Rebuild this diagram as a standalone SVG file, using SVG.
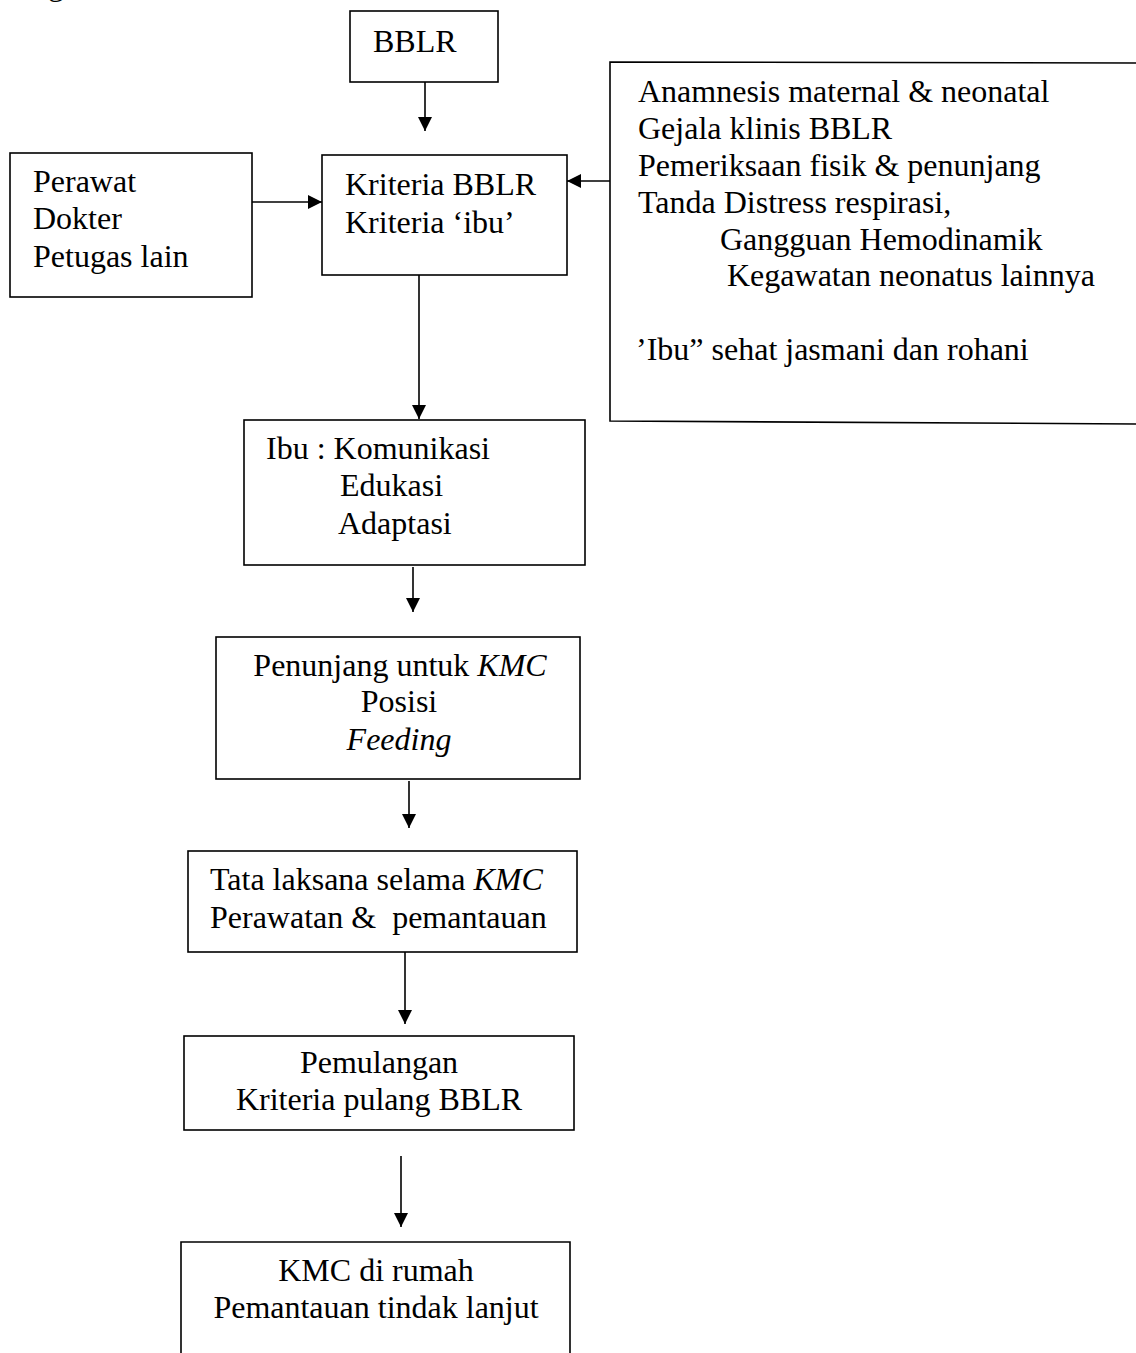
<svg xmlns="http://www.w3.org/2000/svg" width="1136" height="1353" viewBox="0 0 1136 1353">
<style>
.box{fill:none;stroke:#000;stroke-width:1.6}
.ln{fill:none;stroke:#000;stroke-width:1.6}
text{font-family:"Liberation Serif","Times New Roman",serif;font-size:32px;fill:#000}
.c{text-anchor:middle}
.i{font-style:italic}
.pre{white-space:pre}
</style>
<defs>
<marker id="ah" viewBox="0 0 10 10" refX="10" refY="5" markerWidth="14" markerHeight="14" markerUnits="userSpaceOnUse" orient="auto">
<path d="M0,0 L10,5 L0,10 Z" fill="#000"/>
</marker>
</defs>
<rect width="1136" height="1353" fill="#fff"/>
<text x="48" y="-5">g</text>
<g id="connectors">
<line class="ln" x1="425" y1="82" x2="425" y2="131" marker-end="url(#ah)"/>
<line class="ln" x1="252" y1="202" x2="322" y2="202" marker-end="url(#ah)"/>
<line class="ln" x1="610" y1="181" x2="567" y2="181" marker-end="url(#ah)"/>
<line class="ln" x1="419" y1="275" x2="419" y2="419" marker-end="url(#ah)"/>
<line class="ln" x1="413" y1="567" x2="413" y2="612" marker-end="url(#ah)"/>
<line class="ln" x1="409" y1="781" x2="409" y2="828" marker-end="url(#ah)"/>
<line class="ln" x1="405" y1="952" x2="405" y2="1024" marker-end="url(#ah)"/>
<line class="ln" x1="401" y1="1156" x2="401" y2="1227" marker-end="url(#ah)"/>
</g>
<g id="n-bblr">
<rect class="box" x="350" y="11" width="148" height="71"/>
<text x="373" y="52">BBLR</text>
</g>
<g id="n-kriteria">
<rect class="box" x="322" y="155" width="245" height="120"/>
<text x="345" y="195">Kriteria BBLR</text>
<text x="345" y="233">Kriteria ‘ibu’</text>
</g>
<g id="n-petugas">
<rect class="box" x="10" y="153" width="242" height="144"/>
<text x="33" y="192">Perawat</text>
<text x="33" y="229">Dokter</text>
<text x="33" y="267">Petugas lain</text>
</g>
<g id="n-anamnesis">
<path class="box" d="M1137,63 L610,62 L610,421 L1137,424"/>
<text x="638" y="102">Anamnesis maternal &amp; neonatal</text>
<text x="638" y="139">Gejala klinis BBLR</text>
<text x="638" y="176">Pemeriksaan fisik &amp; penunjang</text>
<text x="638" y="213">Tanda Distress respirasi,</text>
<text x="720" y="250">Gangguan Hemodinamik</text>
<text x="727" y="286">Kegawatan neonatus lainnya</text>
<text x="636" y="360">’Ibu” sehat jasmani dan rohani</text>
</g>
<g id="n-ibu">
<rect class="box" x="244" y="420" width="341" height="145"/>
<text x="266" y="459">Ibu : Komunikasi</text>
<text x="340" y="496">Edukasi</text>
<text x="338" y="534">Adaptasi</text>
</g>
<g id="n-penunjang">
<rect class="box" x="216" y="637" width="364" height="142"/>
<text class="c" x="400" y="676">Penunjang untuk <tspan class="i">KMC</tspan></text>
<text class="c" x="399" y="712">Posisi</text>
<text class="c i" x="399" y="750">Feeding</text>
</g>
<g id="n-tata">
<rect class="box" x="188" y="851" width="389" height="101"/>
<text x="210" y="890">Tata laksana selama <tspan class="i">KMC</tspan></text>
<text class="pre" x="210" y="928">Perawatan &amp;  pemantauan</text>
</g>
<g id="n-pemulangan">
<rect class="box" x="184" y="1036" width="390" height="94"/>
<text class="c" x="379" y="1073">Pemulangan</text>
<text class="c" x="379" y="1110">Kriteria pulang BBLR</text>
</g>
<g id="n-kmc">
<path class="box" d="M181,1354 L181,1242 L570,1242 L570,1354"/>
<text class="c" x="376" y="1281">KMC di rumah</text>
<text class="c" x="376" y="1318">Pemantauan tindak lanjut</text>
</g>
</svg>
